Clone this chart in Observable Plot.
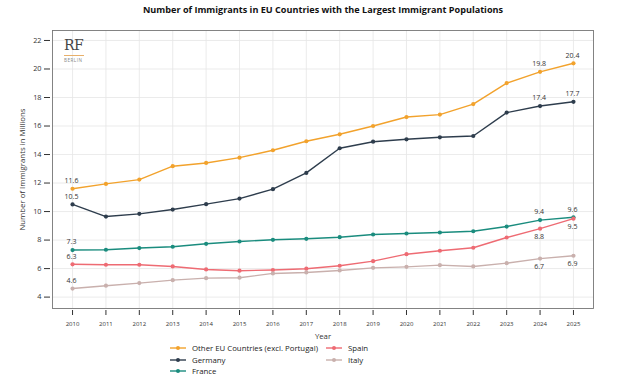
<!DOCTYPE html>
<html><head><meta charset="utf-8">
<script src="https://cdn.jsdelivr.net/npm/d3@7"></script>
<script src="https://cdn.jsdelivr.net/npm/@observablehq/plot@0.6"></script>
<style>
body{margin:0;background:#fff;font-family:"Open Sans",sans-serif;}
#wrap{position:relative;width:620px;height:378px;overflow:hidden;}
#title{position:absolute;top:3px;left:0;width:646px;text-align:center;font-weight:700;font-size:9.1px;color:#111;}
#chart{position:absolute;top:22px;left:0;}
#logo{position:absolute;left:64px;top:38px;color:#444;}
#logo .rf{font-family:"DejaVu Serif","Liberation Serif",serif;font-size:14px;line-height:14px;letter-spacing:-0.5px;}
#logo .bar{width:20px;height:1.2px;background:#e8b06a;margin-top:3px;}
#logo .b{font-size:4.6px;letter-spacing:0.5px;color:#888;margin-top:1px;}
.leg{position:absolute;font-size:7.8px;color:#222;display:flex;align-items:center;white-space:nowrap;}
.leg svg{margin-right:6px;}
</style></head>
<body><div id="wrap">
<div id="title">Number of Immigrants in EU Countries with the Largest Immigrant Populations</div>
<div id="chart"></div>
<div id="logo"><div class="rf">RF</div><div class="bar"></div><div class="b">BERLIN</div></div>
<div id="legend"></div>
</div>
<script>
const years = [2010,2011,2012,2013,2014,2015,2016,2017,2018,2019,2020,2021,2022,2023,2024,2025];
const seriesNames = ["Other EU Countries (excl. Portugal)","Germany","France","Spain","Italy"];
const colors = ["#F2A22C","#2E3D4D","#1A8C7E","#EE6B73","#C9B0AD"];
const otherEU = [11.6,11.94,12.24,13.18,13.41,13.78,14.3,14.93,15.42,16.0,16.63,16.8,17.54,19.01,19.8,20.4];
const germany = [10.5,9.65,9.84,10.14,10.52,10.91,11.57,12.71,14.44,14.9,15.07,15.21,15.3,16.94,17.4,17.7];
const france = [7.3,7.32,7.44,7.53,7.74,7.9,8.02,8.09,8.2,8.39,8.46,8.53,8.62,8.95,9.4,9.6];
const spain = [6.3,6.27,6.27,6.15,5.94,5.85,5.9,5.99,6.2,6.52,7.01,7.25,7.46,8.18,8.8,9.5];
const italy = [4.6,4.8,4.98,5.19,5.33,5.36,5.66,5.73,5.87,6.05,6.12,6.24,6.15,6.38,6.7,6.9];
const yTicks = [4,6,8,10,12,14,16,18,20,22];
const labelYears = [2010,2024,2025];
const labelBelowAtEnd = ["Spain","Italy"];

const allSeries = [otherEU,germany,france,spain,italy];
const data = [];
allSeries.forEach((vals,i)=>vals.forEach((v,j)=>data.push({series:seriesNames[i],year:years[j],value:v})));
const labels = data.filter(d=>labelYears.includes(d.year));
const above = labels.filter(d=>!(d.year!==2010 && labelBelowAtEnd.includes(d.series)));
const below = labels.filter(d=>d.year!==2010 && labelBelowAtEnd.includes(d.series));

const plot = Plot.plot({
  width:620, height:322,
  marginTop:8, marginLeft:52, marginRight:27, marginBottom:36,
  style:{fontFamily:"Open Sans, sans-serif", color:"#333"},
  x:{domain:[2009.4,2025.6]},
  y:{domain:[3.2,22.7]},
  color:{domain:seriesNames, range:colors},
  marks:[
    Plot.gridX(years,{stroke:"#e6e6e6",strokeOpacity:1,strokeWidth:0.8}),
    Plot.gridY(yTicks,{stroke:"#e6e6e6",strokeOpacity:1,strokeWidth:0.8}),
    Plot.line(data,{x:"year",y:"value",stroke:"series",strokeWidth:1.4}),
    Plot.dot(data,{x:"year",y:"value",fill:"series",r:2.1}),
    Plot.text(above,{x:"year",y:"value",text:d=>d.value.toFixed(1),dy:-8,dx:-1,fontSize:7,fill:"#333"}),
    Plot.text(below,{x:"year",y:"value",text:d=>d.value.toFixed(1),dy:8,dx:-1,fontSize:7,fill:"#333"}),
    Plot.frame({stroke:"#777",strokeWidth:0.9}),
    Plot.axisX(years,{tickFormat:d=>String(d),tickSize:5,tickPadding:6,fontSize:6,dy:2,label:"Year",labelAnchor:"center",labelArrow:"none",labelOffset:30,stroke:"#333"}),
    Plot.axisY(yTicks,{tickSize:6,tickPadding:3,fontSize:7.3,dx:-2,label:"Number of Immigrants in Millions",labelAnchor:"center",labelArrow:"none",labelOffset:33})
  ]
});
document.getElementById("chart").appendChild(plot);
plot.querySelectorAll("g[aria-label='x-axis label'] text, g[aria-label='y-axis label'] text").forEach(t=>t.setAttribute("font-size","7.8"));

const legendPos = [[170,349],[170,361],[170,372],[326,349],[326,361]];
const leg = document.getElementById("legend");
seriesNames.forEach((n,i)=>{
  const d = document.createElement("div");
  d.className="leg";
  d.style.left = legendPos[i][0]+"px";
  d.style.top = (legendPos[i][1]-6)+"px";
  d.innerHTML = `<svg width="16" height="8"><line x1="0" x2="16" y1="4" y2="4" stroke="${colors[i]}" stroke-width="1.4"/><circle cx="8" cy="4" r="2" fill="${colors[i]}"/></svg>${n}`;
  leg.appendChild(d);
});
</script>
</body></html>
